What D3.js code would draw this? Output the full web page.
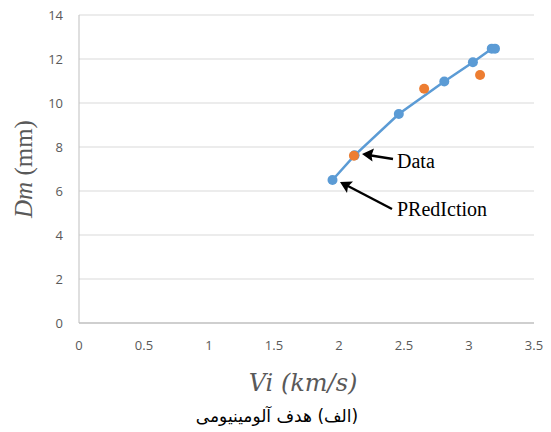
<!DOCTYPE html>
<html><head><meta charset="utf-8">
<script src="https://cdn.jsdelivr.net/npm/d3@7"></script>
<style>body{margin:0;background:#fff;}</style>
</head><body>
<svg id="c" width="551" height="432"></svg>
<script>
const predX = [1.95, 2.12, 2.46, 2.81, 3.03, 3.175, 3.2];
const predY = [6.5, 7.62, 9.5, 10.98, 11.85, 12.47, 12.47];
const dataX = [2.115, 2.655, 3.085];
const dataY = [7.6, 10.65, 11.27];
const xTicks = [0, 0.5, 1, 1.5, 2, 2.5, 3, 3.5];
const yTicks = [0, 2, 4, 6, 8, 10, 12, 14];

const svg = d3.select("#c");
const x = d3.scaleLinear().domain([0, 3.5]).range([79, 534]);
const y = d3.scaleLinear().domain([0, 14]).range([323, 15]);

// gridlines
svg.append("g").selectAll("line").data(yTicks.filter(d => d > 0)).join("line")
  .attr("x1", 79).attr("x2", 534).attr("y1", d => y(d)).attr("y2", d => y(d))
  .attr("stroke", "#d9d9d9").attr("stroke-width", 1);

// axes lines
svg.append("line").attr("x1", 79).attr("x2", 79).attr("y1", y(14)).attr("y2", y(0))
  .attr("stroke", "#bfbfbf").attr("stroke-width", 1);
svg.append("line").attr("x1", 79).attr("x2", 534).attr("y1", y(0)).attr("y2", y(0))
  .attr("stroke", "#bfbfbf").attr("stroke-width", 1.5);

// tick labels
svg.append("g").selectAll("text").data(yTicks).join("text")
  .attr("x", 63).attr("y", d => y(d) + 5).attr("text-anchor", "end")
  .attr("font-family", "Open Sans, sans-serif").attr("font-size", 13).attr("fill", "#595959")
  .text(d => d);
svg.append("g").selectAll("text").data(xTicks).join("text")
  .attr("x", d => x(d)).attr("y", 350).attr("text-anchor", "middle")
  .attr("font-family", "Open Sans, sans-serif").attr("font-size", 13).attr("fill", "#595959")
  .text(d => d);

// prediction line
const pts = predX.map((v, i) => [v, predY[i]]);
svg.append("path").datum(pts)
  .attr("d", d3.line().x(d => x(d[0])).y(d => y(d[1])))
  .attr("fill", "none").attr("stroke", "#5b9bd5").attr("stroke-width", 2.5);
svg.append("g").selectAll("circle").data(pts).join("circle")
  .attr("cx", d => x(d[0])).attr("cy", d => y(d[1])).attr("r", 5).attr("fill", "#5b9bd5");

// data points
const dpts = dataX.map((v, i) => [v, dataY[i]]);
svg.append("g").selectAll("circle").data(dpts).join("circle")
  .attr("cx", d => x(d[0])).attr("cy", d => y(d[1])).attr("r", 5).attr("fill", "#ed7d31");

// arrows
svg.append("line").attr("x1", 393).attr("y1", 159).attr("x2", 368).attr("y2", 155)
  .attr("stroke", "#000").attr("stroke-width", 2.4);
svg.append("path").attr("d", "M362,154 L374,148.5 L371.5,155.5 L372.5,161.5 Z").attr("fill", "#000");
svg.append("line").attr("x1", 392).attr("y1", 209).attr("x2", 346).attr("y2", 185)
  .attr("stroke", "#000").attr("stroke-width", 2.4);
svg.append("path").attr("d", "M340,182 L353,181.5 L348,186.5 L347,193 Z").attr("fill", "#000");

svg.append("text").attr("x", 397).attr("y", 168)
  .attr("font-family", "Liberation Serif, serif").attr("font-size", 20).attr("fill", "#000")
  .text("Data");
svg.append("text").attr("x", 397).attr("y", 216)
  .attr("font-family", "Liberation Serif, serif").attr("font-size", 20).attr("fill", "#000")
  .text("PRedIction");

// axis titles
const yt = svg.append("text").attr("transform", "translate(32,169) rotate(-90)")
  .attr("text-anchor", "middle").attr("font-family", "Liberation Serif, serif")
  .attr("font-size", 25).attr("fill", "#595959");
yt.append("tspan").attr("font-style", "italic").text("Dm");
yt.append("tspan").text(" (mm)");

svg.append("text").attr("x", 303).attr("y", 391).attr("text-anchor", "middle")
  .attr("font-family", "DejaVu Serif, serif").attr("font-style", "italic")
  .attr("font-size", 24).attr("fill", "#595959").text("Vi (km/s)");

svg.append("text").attr("x", 277).attr("y", 422).attr("text-anchor", "middle")
  .attr("direction", "rtl")
  .attr("font-family", "DejaVu Sans, Noto Sans, sans-serif").attr("font-size", 17).attr("fill", "#000")
  .text("(الف) هدف آلومینیومی");
</script>
</body></html>
